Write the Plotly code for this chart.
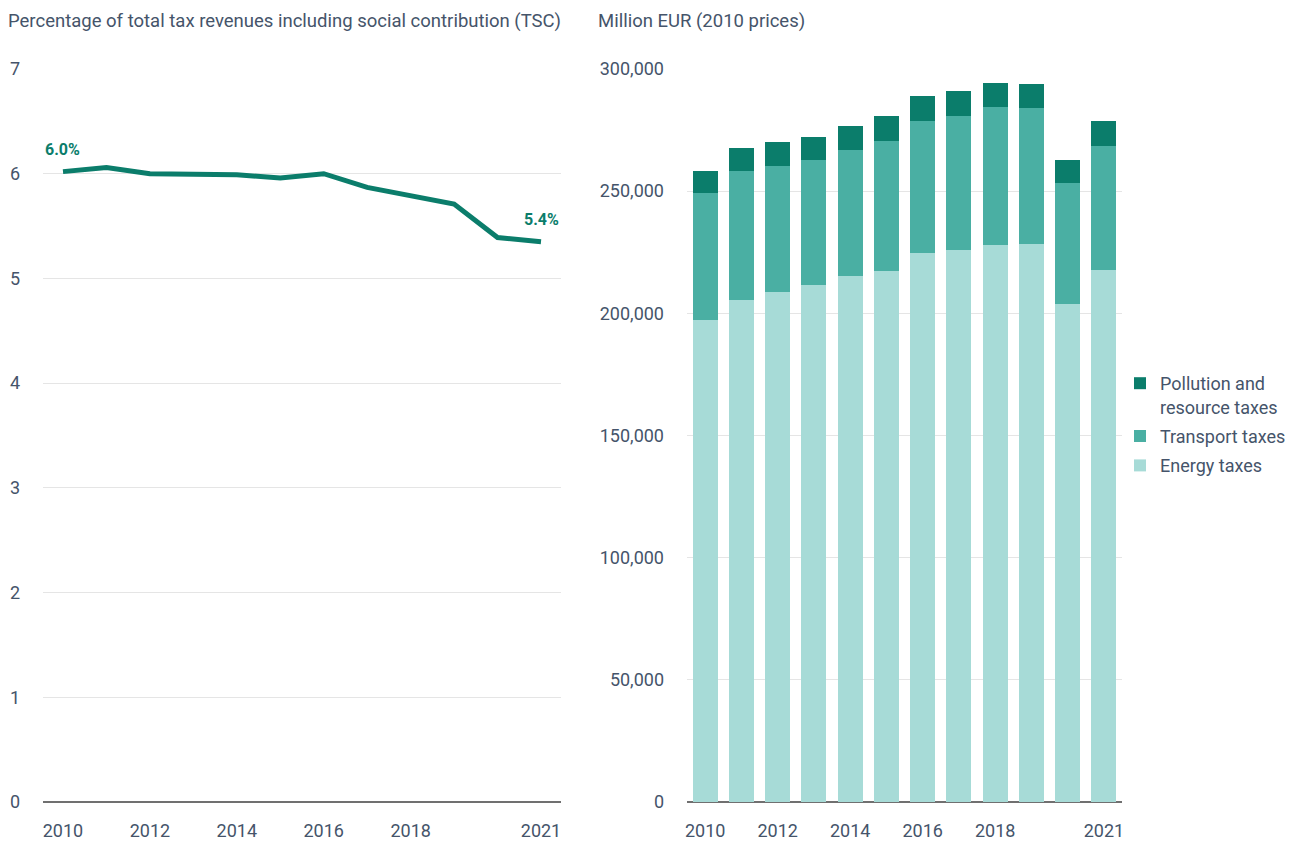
import plotly.graph_objects as go

years = list(range(2010, 2022))
tsc_share = [6.02, 6.06, 6.0, 5.99, 5.99, 5.96, 6.0, 5.87, 5.79, 5.71, 5.39, 5.35]
energy_taxes = [197200, 205400, 208700, 211550, 215200, 217270, 224600, 225900, 227900, 228300, 203800, 217700]
transport_taxes = [52100, 52900, 51700, 51300, 51700, 53400, 54200, 55000, 56700, 55900, 49600, 50900]
pollution_taxes = [9000, 9400, 9800, 9400, 9800, 10200, 10200, 10200, 9800, 9800, 9400, 10200]
x_ticks = [2010, 2012, 2014, 2016, 2018, 2021]

# page has an 8px body margin; figure sized so that it fills the 1301x843 window
OFF = 8
W, H = 1301 - OFF, 843 - OFF


def px(x):
    return (x - OFF) / W


def py(y):
    return (H - (y - OFF)) / H


TXT = "#45546a"
FONT = "Roboto"
C_DARK = "#0b7d6b"
C_MID = "#4aafa3"
C_LIGHT = "#a7dbd7"

fig = go.Figure()
fig.add_trace(go.Scatter(x=years, y=tsc_share, mode="lines", line=dict(color=C_DARK, width=5),
                         xaxis="x", yaxis="y", showlegend=False, hoverinfo="x+y"))
fig.add_trace(go.Bar(x=years, y=energy_taxes, name="Energy taxes", marker_color=C_LIGHT,
                     marker_line_width=0, legendgroup="e", legendrank=3, xaxis="x2", yaxis="y2"))
fig.add_trace(go.Bar(x=years, y=transport_taxes, name="Transport taxes", marker_color=C_MID,
                     marker_line_width=0, legendgroup="t", legendrank=2, xaxis="x2", yaxis="y2"))
fig.add_trace(go.Bar(x=years, y=pollution_taxes, name="Pollution and<br>resource taxes", marker_color=C_DARK,
                     marker_line_width=0, legendgroup="p", legendrank=1, xaxis="x2", yaxis="y2"))

ydom = [py(802), py(69)]
axis_common = dict(showline=False, ticks="", automargin=False,
                   tickfont=dict(family=FONT, size=18, color=TXT))

fig.update_layout(
    width=W, height=H,
    margin=dict(l=0, r=0, t=0, b=0, pad=0),
    paper_bgcolor="white", plot_bgcolor="white",
    font=dict(family=FONT, color=TXT),
    barmode="stack", bargap=0.31,
    xaxis=dict(domain=[px(43), px(561)], range=[2009.54, 2021.46], tickvals=x_ticks,
               showgrid=False, zeroline=False, ticklabelstandoff=16, anchor="y", **axis_common),
    yaxis=dict(domain=ydom, range=[0, 7], dtick=1, showgrid=True, gridcolor="#e5e5e5", gridwidth=1,
               zeroline=True, zerolinecolor="#707070", zerolinewidth=2, ticklabelstandoff=22,
               anchor="x", **axis_common),
    xaxis2=dict(domain=[px(687), px(1122)], type="linear", range=[2009.5, 2021.5], tickvals=x_ticks,
                showgrid=False, zeroline=False, ticklabelstandoff=16, anchor="y2", **axis_common),
    yaxis2=dict(domain=ydom, range=[0, 300000], dtick=50000, tickformat=",", showgrid=True,
                gridcolor="#e5e5e5", gridwidth=1, zeroline=True, zerolinecolor="#707070",
                zerolinewidth=2, ticklabelstandoff=22, anchor="x2", **axis_common),
    legend=dict(x=px(1120), y=py(365), xanchor="left", yanchor="top", traceorder="grouped",
                valign="top", font=dict(family=FONT, size=18, color=TXT), itemwidth=30,
                tracegroupgap=3, bgcolor="rgba(0,0,0,0)"),
    annotations=[
        dict(text="Percentage of total tax revenues including social contribution (TSC)",
             x=px(6), y=py(21), xref="paper", yref="paper", xanchor="left", yanchor="middle",
             showarrow=False, font=dict(family=FONT, size=18.5, color=TXT)),
        dict(text="Million EUR (2010 prices)",
             x=px(596), y=py(21), xref="paper", yref="paper", xanchor="left", yanchor="middle",
             showarrow=False, font=dict(family=FONT, size=18.5, color=TXT)),
        dict(text="<b>6.0%</b>", x=years[0], y=tsc_share[0], xref="x", yref="y", showarrow=False,
             yshift=22, font=dict(family=FONT, size=16, color=C_DARK)),
        dict(text="<b>5.4%</b>", x=years[-1], y=tsc_share[-1], xref="x", yref="y", showarrow=False,
             yshift=22, font=dict(family=FONT, size=16, color=C_DARK)),
    ],
)

fig.write_html("out.html")
